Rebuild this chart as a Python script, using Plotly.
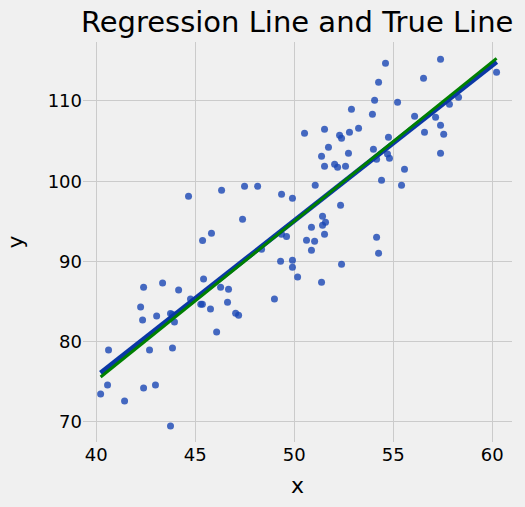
import plotly.graph_objects as go

# scatter points
x_vals = [
    57.39, 54.61, 60.22, 56.53, 54.26, 54.06, 55.22, 58.30, 57.84, 52.89,
    53.95, 56.08, 57.14, 57.39, 57.55, 56.58, 57.39, 50.52, 51.53, 52.29,
    52.39, 52.79, 53.25, 54.76, 51.73, 51.38, 52.74, 54.00, 54.71, 54.81,
    54.16, 51.53, 52.04, 52.19, 52.59, 55.57, 54.41, 55.42, 51.06, 49.91,
    52.34, 51.43, 51.43, 51.58, 50.87, 51.53,
    50.62, 51.03, 50.87, 54.16, 54.26, 52.39, 49.91, 49.91, 50.17, 51.38,
    44.66, 46.33, 47.49, 48.15, 49.36, 47.39, 45.82, 45.37, 49.36, 49.61,
    48.35, 49.31, 49.00, 42.39, 43.35, 44.16, 42.24, 42.34, 43.05, 43.75,
    43.85, 43.95, 44.76, 45.42, 45.28, 45.36, 45.77, 46.28, 46.68, 46.63,
    47.04, 47.19, 46.08, 40.62, 42.69, 43.85, 40.57, 40.22, 41.43, 42.39,
    42.99, 43.75,
]
y_vals = [
    115.19, 114.69, 113.57, 112.82, 112.33, 110.09, 109.84, 110.46, 109.59, 108.97,
    108.34, 108.09, 107.97, 106.97, 105.85, 106.10, 103.49, 105.98, 106.48, 105.73,
    105.35, 106.10, 106.60, 105.48, 104.23, 103.11, 103.49, 103.99, 103.40, 102.86,
    102.74, 101.87, 102.12, 101.74, 101.87, 101.49, 100.12, 99.50, 99.50, 97.88,
    97.01, 95.64, 94.52, 94.89, 94.27, 93.40,
    92.65, 92.53, 91.41, 93.03, 91.03, 89.66, 90.16, 89.29, 88.05, 87.42,
    98.13, 98.88, 99.38, 99.38, 98.38, 95.27, 93.52, 92.60, 93.40, 93.10,
    91.53, 90.04, 85.31, 86.80, 87.30, 86.43, 84.31, 82.69, 83.19, 83.50,
    83.38, 82.44, 85.31, 87.80, 84.68, 84.68, 84.06, 86.80, 86.55, 84.93,
    83.56, 83.31, 81.20, 78.95, 78.95, 79.20, 74.60, 73.48, 72.60, 74.22,
    74.60, 69.49,
]

# line endpoints
line_x = [40.22, 60.22]
reg_y = [76.1, 114.9]
true_y = [75.6, 115.3]

font_name = "DejaVu Sans"

fig = go.Figure()

fig.add_trace(go.Scatter(
    x=x_vals, y=y_vals,
    mode='markers',
    marker=dict(size=7, color='rgba(25,70,180,0.8)', line=dict(width=0)),
    showlegend=False
))

# regression line
fig.add_trace(go.Scatter(
    x=line_x, y=reg_y,
    mode='lines',
    line=dict(color='rgb(10,55,165)', width=5),
    showlegend=False
))

# true line
fig.add_trace(go.Scatter(
    x=line_x, y=true_y,
    mode='lines',
    line=dict(color='rgb(0,128,0)', width=3),
    showlegend=False
))

fig.update_layout(
    width=525, height=507,
    margin=dict(l=83, r=13, t=42, b=65),
    paper_bgcolor='#f0f0f0',
    plot_bgcolor='#f0f0f0',
    font=dict(family=font_name, color='black'),
    title=dict(text='Regression Line and True Line', x=0.566, xanchor='center',
               y=0.957, yanchor='middle', font=dict(size=29)),
    xaxis=dict(title=dict(text='x', font=dict(size=22), standoff=13),
               range=[39.33, 61.0], dtick=5, tick0=40,
               showgrid=True, gridcolor='#cbcbcb', gridwidth=1,
               zeroline=False, showline=False, ticks='',
               tickfont=dict(size=18)),
    yaxis=dict(title=dict(text='y', font=dict(size=22), standoff=17),
               range=[67.5, 117.35], dtick=10, tick0=70,
               showgrid=True, gridcolor='#cbcbcb', gridwidth=1,
               zeroline=False, showline=False, ticks='',
               tickfont=dict(size=18)),
)

# drop the page's default body margin so the figure sits at the window corner
fig.write_html("out.html", config={'displayModeBar': False},
               post_script="document.body.style.margin='0px';")
